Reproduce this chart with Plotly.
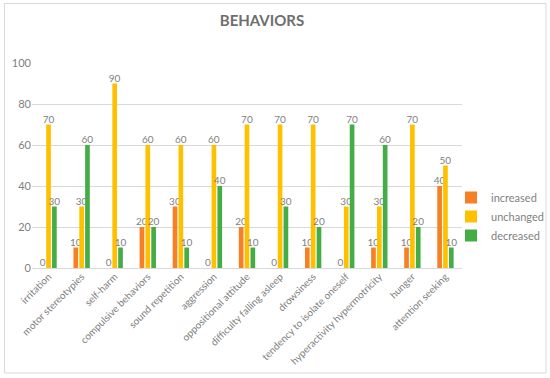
import plotly.graph_objects as go

categories = ["irritation", "motor stereotypies", "self-harm", "compulsive behaviors",
              "sound repetition", "aggression", "oppositional attitude",
              "difficulty falling asleep", "drowsiness", "tendency to isolate oneself",
              "hyperactivity hypermotricity", "hunger", "attention seeking"]
increased = [0, 10, 0, 20, 30, 0, 20, 0, 10, 0, 10, 10, 40]
unchanged = [70, 30, 90, 60, 60, 60, 70, 70, 70, 30, 30, 70, 50]
decreased = [30, 60, 10, 20, 10, 40, 10, 30, 20, 70, 60, 20, 10]
y_ticks = [0, 20, 40, 60, 80, 100]

series = [("increased", increased, "#F77F26"),
          ("unchanged", unchanged, "#FFC000"),
          ("decreased", decreased, "#45AD45")]

fig = go.Figure()
for name, vals, col in series:
    fig.add_trace(go.Bar(
        x=categories, y=vals, name=name, marker=dict(color=col, line=dict(width=0)),
        text=[str(v) for v in vals], textposition="outside", cliponaxis=False,
        textfont=dict(size=10, color="#7F7F7F", family="Lato"),
    ))

L, R, T, B = 32, 88, 63, 110
W, H = 550, 378
pw, ph = W - L - R, H - T - B

def px_x(x):
    return (x - L) / pw

def px_y(y):
    return (H - B - y) / ph

fig.update_layout(
    width=W, height=H,
    margin=dict(l=L, r=R, t=T, b=B, autoexpand=False),
    paper_bgcolor="white", plot_bgcolor="white",
    barmode="group", bargap=0.47, bargroupgap=0.2,
    uniformtext=dict(minsize=10, mode="show"),
    font=dict(family="Lato", color="#7F7F7F", size=11),
    title=dict(text="<b>BEHAVIORS</b>", x=262 / W, xanchor="center", y=1 - 21 / H, yanchor="middle",
               font=dict(size=15, color="#6E6E6E", family="Lato")),
    xaxis=dict(tickangle=-45, tickfont=dict(size=10, color="#7F7F7F"), showgrid=False,
               showline=False, ticks="", automargin=False),
    yaxis=dict(range=[0, 100], tickvals=y_ticks, showgrid=True, gridcolor="#D9D9D9",
               gridwidth=1, zeroline=True, zerolinecolor="#D9D9D9", zerolinewidth=1,
               tickfont=dict(size=11, color="#7F7F7F"), ticks="", automargin=False),
    legend=dict(x=px_x(451), y=px_y(183), xanchor="left", yanchor="top",
                font=dict(size=11, color="#7F7F7F"), tracegroupgap=0,
                bgcolor="rgba(0,0,0,0)"),
    showlegend=True,
    shapes=[dict(type="rect", xref="paper", yref="paper",
                 x0=px_x(4.5), x1=px_x(546), y0=px_y(373), y1=px_y(3.5),
                 line=dict(color="#D9D9D9", width=1), fillcolor="rgba(0,0,0,0)", layer="below")],
)

fig.write_html("out.html", config={"displayModeBar": False},
               post_script="document.body.style.margin='0';document.body.style.padding='0';")
